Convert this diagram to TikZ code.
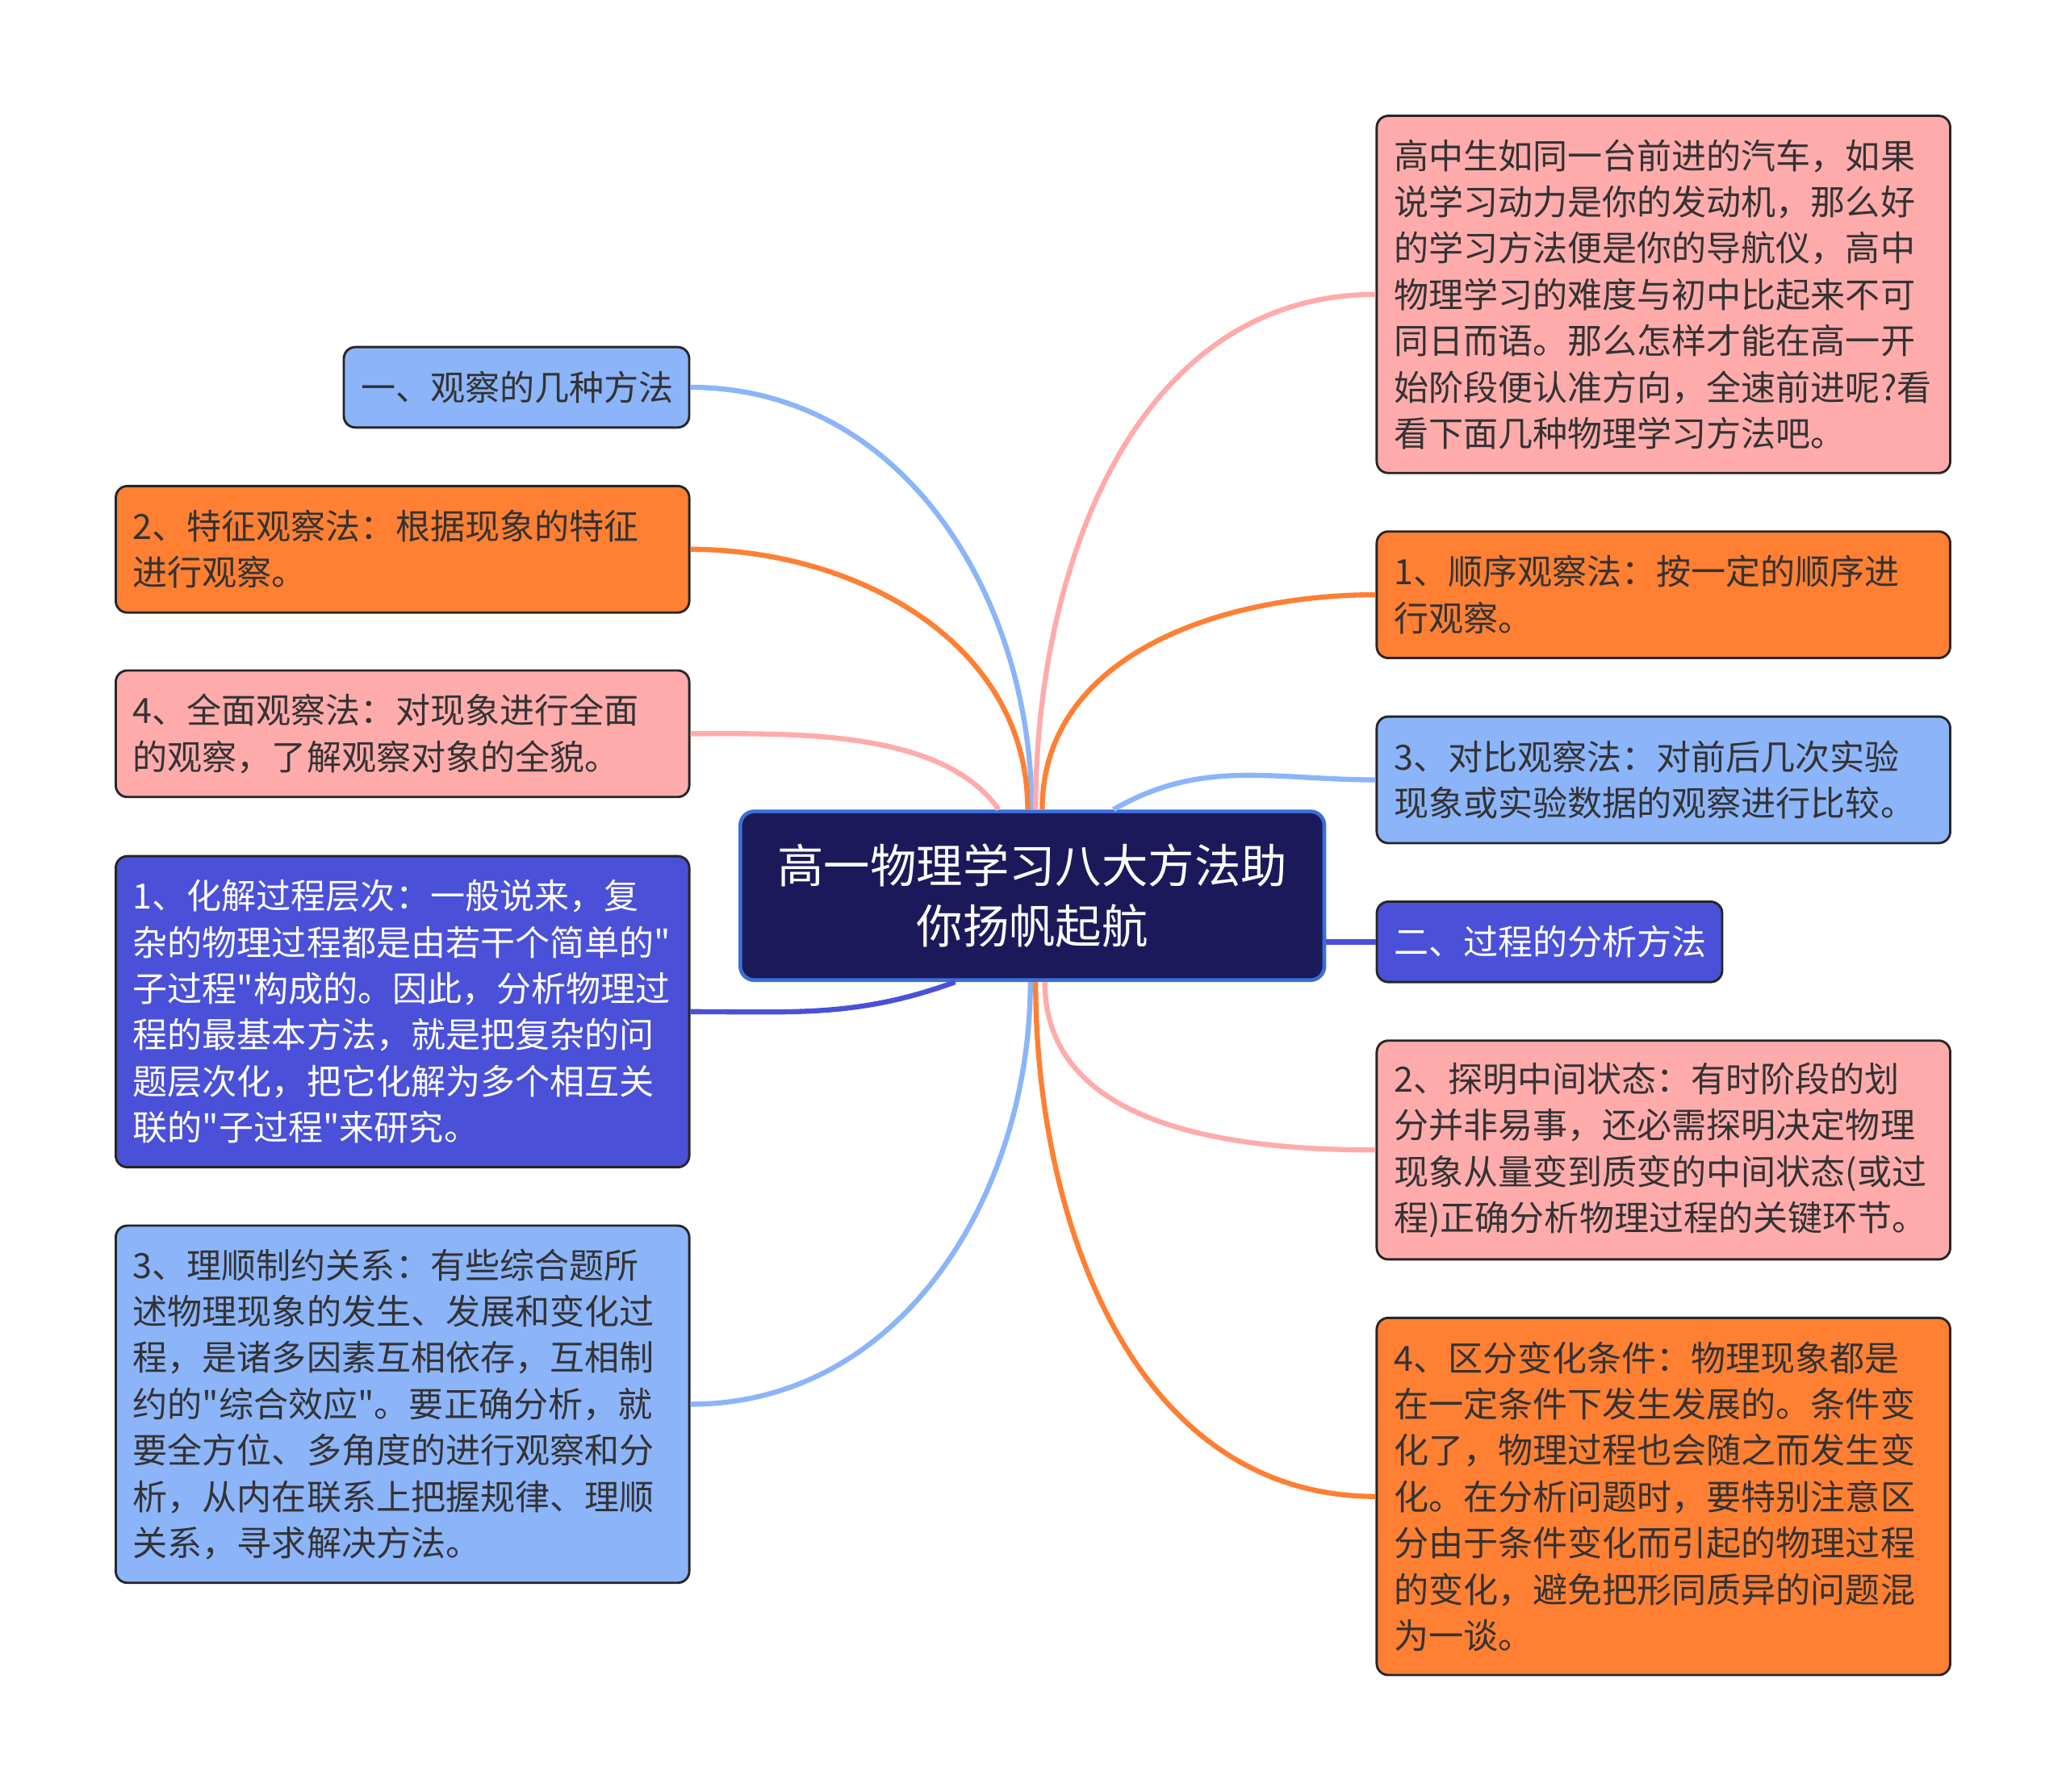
\documentclass[tikz,border=0pt]{standalone}
\usepackage{fontspec}
\usepackage{xcolor}
\newfontfamily\cjk{Noto Sans CJK SC}
\definecolor{skyblue}{HTML}{8CB4F9}
\definecolor{tangerine}{HTML}{FF7F33}
\definecolor{blush}{HTML}{FFABAB}
\definecolor{indigo}{HTML}{4A50D8}
\definecolor{navy}{HTML}{1C195B}
\definecolor{rootedge}{HTML}{3B6FD6}

\begin{document}
\begin{tikzpicture}[x=0.01cm,y=-0.01cm,
    leaf/.style={draw=black!85,line width=0.5pt,rounded corners=2.5pt,text=black!80,
      inner xsep=0.13cm,inner ysep=0pt,text width=4.09cm,align=left,
      font=\cjk\fontsize{7.5}{10}\selectfont},
    short/.style={text width=2.36cm},
    hgt/.style={minimum height={#1*0.35cm+0.26cm}},
    root/.style={draw=rootedge,line width=0.8pt,fill=navy,rounded corners=3pt,text=white,
      minimum width=4.43cm,minimum height=1.28cm,align=center,
      font=\cjk\fontsize{10}{13.1}\selectfont},
    link/.style={line width=1.1pt}]
  \useasboundingbox (0,0) rectangle (1568,1360);

  \node (ctr) at (783.5,680) [root] {高一物理学习八大方法助\\你扬帆起航};

  \node (obs) at (392,294) [leaf,short,hgt=1,fill=skyblue] {一、观察的几种方法};
  \node (feat) at (305.5,417) [leaf,hgt=2,fill=tangerine] {2、特征观察法：根据现象的特征\\进行观察。};
  \node (whole) at (305.5,557) [leaf,hgt=2,fill=blush] {4、全面观察法：对现象进行全面\\的观察，了解观察对象的全貌。};
  \node (layer) at (305.5,768) [leaf,hgt=6,fill=indigo,text=white] {1、化解过程层次：一般说来，复\\杂的物理过程都是由若干个简单的"\\子过程"构成的。因此，分析物理过\\程的最基本方法，就是把复杂的问\\题层次化，把它化解为多个相互关\\联的"子过程"来研究。};
  \node (bind) at (305.5,1066) [leaf,hgt=7,fill=skyblue] {3、理顺制约关系：有些综合题所\\述物理现象的发生、发展和变化过\\程，是诸多因素互相依存，互相制\\约的"综合效应"。要正确分析，就\\要全方位、多角度的进行观察和分\\析，从内在联系上把握规律、理顺\\关系，寻求解决方法。};

  \node (intro) at (1262.5,223.5) [leaf,hgt=7,fill=blush] {高中生如同一台前进的汽车，如果\\说学习动力是你的发动机，那么好\\的学习方法便是你的导航仪，高中\\物理学习的难度与初中比起来不可\\同日而语。那么怎样才能在高一开\\始阶段便认准方向，全速前进呢?看\\看下面几种物理学习方法吧。};
  \node (order) at (1262.5,451.5) [leaf,hgt=2,fill=tangerine] {1、顺序观察法：按一定的顺序进\\行观察。};
  \node (comp) at (1262.5,592) [leaf,hgt=2,fill=skyblue] {3、对比观察法：对前后几次实验\\现象或实验数据的观察进行比较。};
  \node (proc) at (1176,715) [leaf,short,hgt=1,fill=indigo,text=white] {二、过程的分析方法};
  \node (mid) at (1262.5,873) [leaf,hgt=4,fill=blush] {2、探明中间状态：有时阶段的划\\分并非易事，还必需探明决定物理\\现象从量变到质变的中间状态(或过\\程)正确分析物理过程的关键环节。};
  \node (cond) at (1262.5,1136) [leaf,hgt=7,fill=tangerine] {4、区分变化条件：物理现象都是\\在一定条件下发生发展的。条件变\\化了，物理过程也会随之而发生变\\化。在分析问题时，要特别注意区\\分由于条件变化而引起的物理过程\\的变化，避免把形同质异的问题混\\为一谈。};

  \draw[link,skyblue] (obs.east) to[out=0,in=90] ([xshift=-0.005cm]ctr.north);
  \draw[link,tangerine] (feat.east) to[out=0,in=90] ([xshift=-0.035cm]ctr.north);
  \draw[link,blush] (whole.east) to[out=0,in=125,looseness=0.8] ([xshift=-0.255cm]ctr.north);
  \draw[link,indigo] (layer.east) to[out=0,in=200] ([xshift=-0.585cm]ctr.south);
  \draw[link,skyblue] (bind.east) to[out=0,in=-90] ([xshift=-0.015cm]ctr.south);

  \draw[link,blush] (intro.west) to[out=180,in=90] ([xshift=0.025cm]ctr.north);
  \draw[link,tangerine] (order.west) to[out=180,in=90] ([xshift=0.075cm]ctr.north);
  \draw[link,skyblue] (comp.west) to[out=180,in=30] ([xshift=0.615cm]ctr.north);
  \draw[link,indigo] (proc.west) -- (proc.west -| ctr.east);
  \draw[link,blush] (mid.west) to[out=180,in=-90] ([xshift=0.095cm]ctr.south);
  \draw[link,tangerine] (cond.west) to[out=180,in=-90] ([xshift=0.025cm]ctr.south);
\end{tikzpicture}
\end{document}
